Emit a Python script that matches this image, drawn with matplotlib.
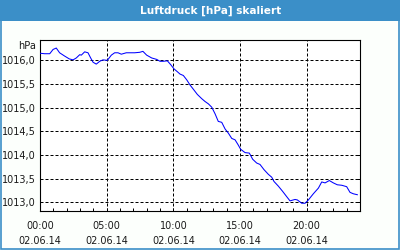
import matplotlib
matplotlib.use("Agg")
import matplotlib.pyplot as plt
from matplotlib.patches import Rectangle
from matplotlib.ticker import FixedLocator, MultipleLocator

# ---- data (hours since 00:00 on 02.06.14, pressure in hPa) ----
hours = [0.0, 0.35, 0.73, 0.98, 1.22, 1.47, 1.85, 2.2, 2.48, 2.72, 2.98, 3.1, 3.35, 3.6,
         3.8, 3.98, 4.22, 4.48, 4.72, 5.05, 5.35, 5.6, 5.85, 6.1, 6.47, 6.73, 7.1, 7.48,
         7.72, 8.0, 8.38, 8.75, 9.0, 9.25, 9.55, 9.8, 10.05, 10.3, 10.5, 10.75, 11.0,
         11.25, 11.5, 11.8, 12.13, 12.38, 12.63, 12.88, 13.13, 13.37, 13.63, 13.88,
         14.13, 14.38, 14.63, 14.87, 15.05, 15.38, 15.7, 15.95, 16.25, 16.5, 16.8,
         17.13, 17.38, 17.55, 17.88, 18.2, 18.5, 18.75, 19.0, 19.13, 19.3, 19.63,
         19.88, 20.13, 20.5, 20.88, 21.13, 21.38, 21.7, 22.0, 22.3, 22.63, 23.0,
         23.25, 23.5, 23.8]
pressure = [1016.15, 1016.14, 1016.14, 1016.23, 1016.26, 1016.16, 1016.09, 1016.03,
            1016.01, 1016.05, 1016.12, 1016.11, 1016.18, 1016.16, 1016.05, 1015.96,
            1015.92, 1015.98, 1016.01, 1016.0, 1016.11, 1016.16, 1016.16, 1016.13,
            1016.16, 1016.16, 1016.16, 1016.17, 1016.19, 1016.11, 1016.05, 1016.02,
            1015.98, 1015.98, 1015.99, 1015.91, 1015.82, 1015.76, 1015.71, 1015.68,
            1015.59, 1015.48, 1015.39, 1015.28, 1015.19, 1015.13, 1015.08, 1015.01,
            1014.87, 1014.71, 1014.69, 1014.55, 1014.46, 1014.35, 1014.32, 1014.21,
            1014.12, 1014.05, 1014.04, 1013.91, 1013.83, 1013.80, 1013.69, 1013.59,
            1013.53, 1013.44, 1013.34, 1013.23, 1013.12, 1013.03, 1013.05, 1013.06,
            1013.05, 1012.98, 1012.98, 1013.05, 1013.18, 1013.30, 1013.43, 1013.41,
            1013.46, 1013.41, 1013.37, 1013.36, 1013.33, 1013.21, 1013.18, 1013.16]

x_ticks = [0, 5, 10, 15, 20]
x_labels = ["00:00\n02.06.14", "05:00\n02.06.14", "10:00\n02.06.14",
            "15:00\n02.06.14", "20:00\n02.06.14"]
y_ticks = [1013.0, 1013.5, 1014.0, 1014.5, 1015.0, 1015.5, 1016.0]
y_labels = ["1013,0", "1013,5", "1014,0", "1014,5", "1015,0", "1015,5", "1016,0"]
title = "Luftdruck [hPa] skaliert"
unit = "hPa"

W, H = 400, 250
fig = plt.figure(figsize=(W / 100, H / 100), dpi=100)
fig.patch.set_facecolor("#fcfffc")

blue = "#3b8fc8"
# title bar
fig.patches.append(Rectangle((0, 1 - 21 / H), 1, 21 / H, transform=fig.transFigure,
                             facecolor=blue, edgecolor="none", zorder=0))
# border
fig.patches.append(Rectangle((0.5 / W, 1.5 / H), (W - 2) / W, (H - 3) / H,
                             transform=fig.transFigure, facecolor="none",
                             edgecolor=blue, linewidth=1.2, zorder=0))
fig.text(211 / W, 1 - 10.5 / H, title, color="white", fontsize=7.6, fontweight="bold",
         ha="center", va="center", family="DejaVu Sans")

ax = fig.add_axes([40 / W, 1 - 211 / H, 320 / W, 171 / H])
ax.set_facecolor("white")
ax.plot(hours, pressure, color="#0000ff", linewidth=0.75, zorder=3)

ax.set_xlim(0, 24)
ax.set_ylim(1012.816, 1016.43)

ax.xaxis.set_major_locator(FixedLocator(x_ticks))
ax.set_xticklabels(x_labels, fontsize=7, linespacing=1.6, color="#1a1a1a")
ax.xaxis.set_minor_locator(MultipleLocator(1))
ax.yaxis.set_major_locator(FixedLocator(y_ticks))
ax.set_yticklabels(y_labels, fontsize=7, color="#1a1a1a")

ax.tick_params(axis="x", which="both", direction="in", length=2.5, width=0.72,
               pad=7, top=False)
ax.tick_params(axis="y", which="both", direction="in", length=2.5, width=0.72,
               left=False, right=True, labelleft=True, pad=3)

ax.grid(True, which="major", color="black", linewidth=0.72,
        linestyle=(0, (3, 2)))
for s in ax.spines.values():
    s.set_linewidth(0.8)
    s.set_color("black")

fig.text(36 / W, 1 - 45.7 / H, unit, fontsize=7, ha="right", va="center",
         color="#1a1a1a")

fig.savefig("out.png", dpi=100, facecolor=fig.get_facecolor())
